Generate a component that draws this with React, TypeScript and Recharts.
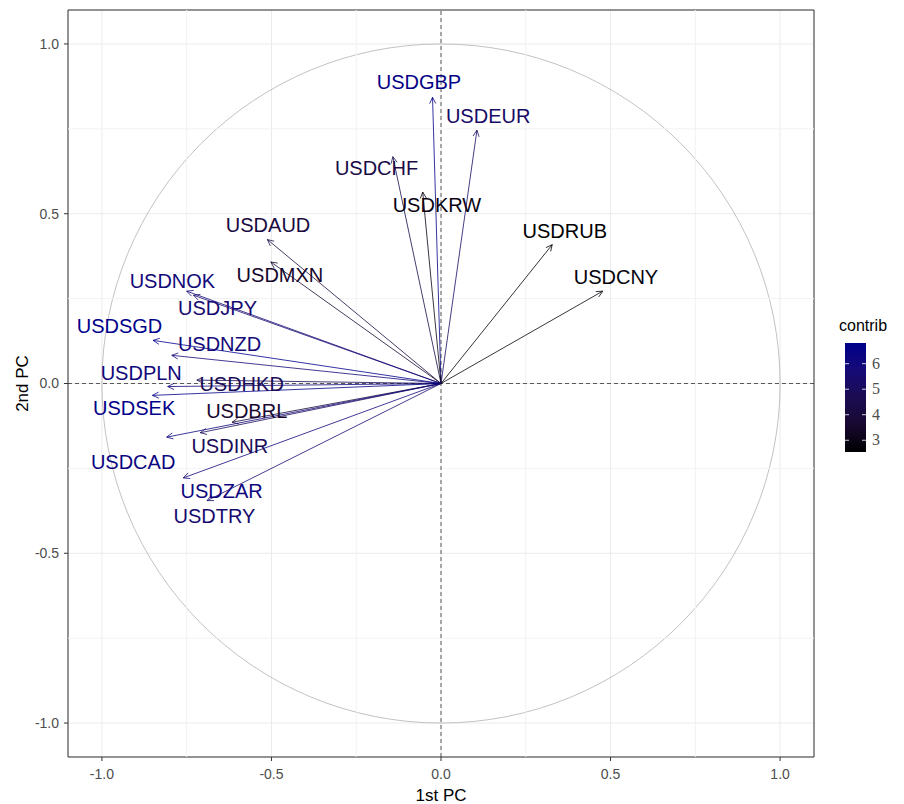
import React from 'react'
import {
  ScatterChart, Scatter, XAxis, YAxis, CartesianGrid,
  ReferenceLine, ReferenceArea,
} from 'recharts'

// ── variables (PCA correlation circle) ──
const variables = [
  'USDGBP', 'USDEUR', 'USDCHF', 'USDKRW', 'USDRUB', 'USDCNY', 'USDAUD', 'USDMXN', 'USDNOK', 'USDJPY',
  'USDSGD', 'USDNZD', 'USDPLN', 'USDHKD', 'USDSEK', 'USDBRL', 'USDINR', 'USDCAD', 'USDZAR', 'USDTRY',
]
// coordinates on 1st / 2nd PC
const pc1 = [-0.025, 0.106, -0.142, -0.054, 0.328, 0.477, -0.512, -0.502, -0.75, -0.73,
  -0.849, -0.794, -0.806, -0.72, -0.851, -0.616, -0.71, -0.809, -0.76, -0.69]
const pc2 = [0.843, 0.746, 0.668, 0.564, 0.409, 0.272, 0.424, 0.358, 0.272, 0.26,
  0.127, 0.083, -0.009, 0.01, -0.035, -0.114, -0.145, -0.158, -0.278, -0.345]
// repelled label anchors (data units)
const labelX = [-0.065, 0.139, -0.19, -0.012, 0.365, 0.516, -0.51, -0.475, -0.792, -0.659,
  -0.948, -0.653, -0.884, -0.588, -0.905, -0.573, -0.623, -0.908, -0.647, -0.668]
const labelY = [0.888, 0.788, 0.634, 0.525, 0.448, 0.313, 0.466, 0.319, 0.301, 0.221,
  0.168, 0.115, 0.031, 0.0, -0.072, -0.081, -0.183, -0.232, -0.316, -0.389]
// contribution (%)
const contrib = [6.57, 5.25, 4.31, 2.97, 2.54, 2.78, 4.09, 3.51, 5.88, 5.55,
  6.81, 5.89, 6.01, 4.79, 6.70, 3.67, 4.85, 6.29, 6.05, 5.50]

const axisTicks = [-1, -0.5, 0, 0.5, 1]
const minorTicks = [-0.75, -0.25, 0.25, 0.75]
const legendTicks = [3, 4, 5, 6]
// black -> darkblue (Lab-ish)
const palette = ['#000000', '#180830', '#1b0c52', '#160a76', '#00008B']

const cMin = Math.min(...contrib)
const cMax = Math.max(...contrib)

function hexToRgb(h: string) {
  return [1, 3, 5].map(i => parseInt(h.slice(i, i + 2), 16))
}
function colorFor(c: number) {
  const t = Math.max(0, Math.min(1, (c - cMin) / (cMax - cMin)))
  const pos = t * (palette.length - 1)
  const i = Math.min(palette.length - 2, Math.floor(pos))
  const f = pos - i
  const a = hexToRgb(palette[i])
  const b = hexToRgb(palette[i + 1])
  const m = a.map((v, k) => Math.round(v + (b[k] - v) * f))
  return `rgb(${m[0]},${m[1]},${m[2]})`
}

const labelData = variables.map((name, i) => ({ x: labelX[i], y: labelY[i], name, contrib: contrib[i] }))

const SANS = "'Liberation Sans', Arial, sans-serif"

// ── arrow from origin ──
const arrowShape = (color: string) => (p: any) => {
  const { x1, y1, x2, y2 } = p
  if ([x1, y1, x2, y2].some(v => typeof v !== 'number' || isNaN(v))) return <g />
  const a = Math.atan2(y2 - y1, x2 - x1)
  const len = 7
  const spread = Math.PI / 7
  const h1x = x2 - len * Math.cos(a - spread)
  const h1y = y2 - len * Math.sin(a - spread)
  const h2x = x2 - len * Math.cos(a + spread)
  const h2y = y2 - len * Math.sin(a + spread)
  return (
    <g>
      <line x1={x1} y1={y1} x2={x2} y2={y2} stroke={color} strokeWidth={0.8} />
      <polyline points={`${h1x},${h1y} ${x2},${y2} ${h2x},${h2y}`} fill="none" stroke={color} strokeWidth={0.8} />
    </g>
  )
}

// ── unit circle inside the [-1,1] box ──
const circleShape = (p: any) => {
  const { x, y, width, height } = p
  return (
    <ellipse cx={x + width / 2} cy={y + height / 2} rx={Math.abs(width) / 2} ry={Math.abs(height) / 2}
      fill="none" stroke="#b3b3b3" strokeWidth={0.8} />
  )
}

const labelShape = (p: any) => (
  <text x={p.cx} y={p.cy} dy={7} textAnchor="middle" fontSize={20} fontFamily={SANS}
    fill={colorFor(p.payload.contrib)}>
    {p.payload.name}
  </text>
)

// ── contrib colour bar ──
function ColorLegend() {
  const top = 33, h = 109
  const yOf = (v: number) => top + (cMax - v) / (cMax - cMin) * h
  return (
    <svg width={74} height={160} style={{ position: 'absolute', left: 830, top: 310 }}>
      <defs>
        <linearGradient id="contribGrad" x1="0" y1="0" x2="0" y2="1">
          {palette.slice().reverse().map((c, i) => (
            <stop key={i} offset={`${(i / (palette.length - 1)) * 100}%`} stopColor={c} />
          ))}
        </linearGradient>
      </defs>
      <text x={9} y={21} fontSize={16} fontFamily={SANS} fill="#000">contrib</text>
      <rect x={15} y={top} width={21} height={h} fill="url(#contribGrad)" />
      {legendTicks.map(v => (
        <g key={v}>
          <line x1={15} x2={19} y1={yOf(v)} y2={yOf(v)} stroke="#fff" strokeWidth={0.8} />
          <line x1={32} x2={36} y1={yOf(v)} y2={yOf(v)} stroke="#fff" strokeWidth={0.8} />
          <text x={42} y={yOf(v) + 5} fontSize={16} fontFamily="'Liberation Serif', serif" fill="#4d4d4d">{v}</text>
        </g>
      ))}
    </svg>
  )
}

export default function App() {
  return (
    <div style={{ position: 'absolute', left: 0, top: 0, width: 904, height: 804, background: '#fff', fontFamily: SANS }}>
      <ScatterChart width={904} height={804} margin={{ top: 10, right: 90, bottom: 0, left: 0 }}>
        <CartesianGrid stroke="#ebebeb" strokeWidth={1} />
        {minorTicks.map(v => (
          <ReferenceLine key={`mx${v}`} x={v} stroke="#f2f2f2" strokeWidth={1} />
        ))}
        {minorTicks.map(v => (
          <ReferenceLine key={`my${v}`} y={v} stroke="#f2f2f2" strokeWidth={1} />
        ))}
        <XAxis
          type="number" dataKey="x" domain={[-1.1, 1.1]} ticks={axisTicks} allowDataOverflow
          height={47} axisLine={false} tickSize={4} tickMargin={8}
          tickLine={{ stroke: '#333' }}
          tick={{ fontSize: 14, fill: '#4d4d4d', fontFamily: SANS }}
          tickFormatter={(v: number) => v.toFixed(1)}
          label={{ value: '1st PC', position: 'insideBottom', offset: 3, fontSize: 17, fill: '#000', fontFamily: SANS }}
        />
        <YAxis
          type="number" dataKey="y" domain={[-1.1, 1.1]} ticks={axisTicks} allowDataOverflow
          width={68} axisLine={false} tickSize={4} tickMargin={5}
          tickLine={{ stroke: '#333' }}
          tick={{ fontSize: 14, fill: '#4d4d4d', fontFamily: SANS }}
          tickFormatter={(v: number) => v.toFixed(1)}
          label={{ value: '2nd PC', angle: -90, position: 'insideLeft', offset: 22, fontSize: 17, fill: '#000', fontFamily: SANS, style: { textAnchor: 'middle' } }}
        />
        <ReferenceArea x1={-1} x2={1} y1={-1} y2={1} ifOverflow="visible" shape={circleShape} />
        <ReferenceLine x={0} stroke="#333" strokeWidth={0.8} strokeDasharray="4 3" />
        <ReferenceLine y={0} stroke="#333" strokeWidth={0.8} strokeDasharray="4 3" />
        {variables.map((name, i) => (
          <ReferenceLine
            key={name}
            segment={[{ x: 0, y: 0 }, { x: pc1[i], y: pc2[i] }]}
            ifOverflow="visible"
            shape={arrowShape(colorFor(contrib[i]))}
          />
        ))}
        <Scatter data={labelData} shape={labelShape} isAnimationActive={false} />
        <ReferenceArea x1={-1.1} x2={1.1} y1={-1.1} y2={1.1} ifOverflow="visible"
          fill="none" fillOpacity={0} stroke="#333" strokeWidth={1} />
      </ScatterChart>
      <ColorLegend />
    </div>
  )
}
